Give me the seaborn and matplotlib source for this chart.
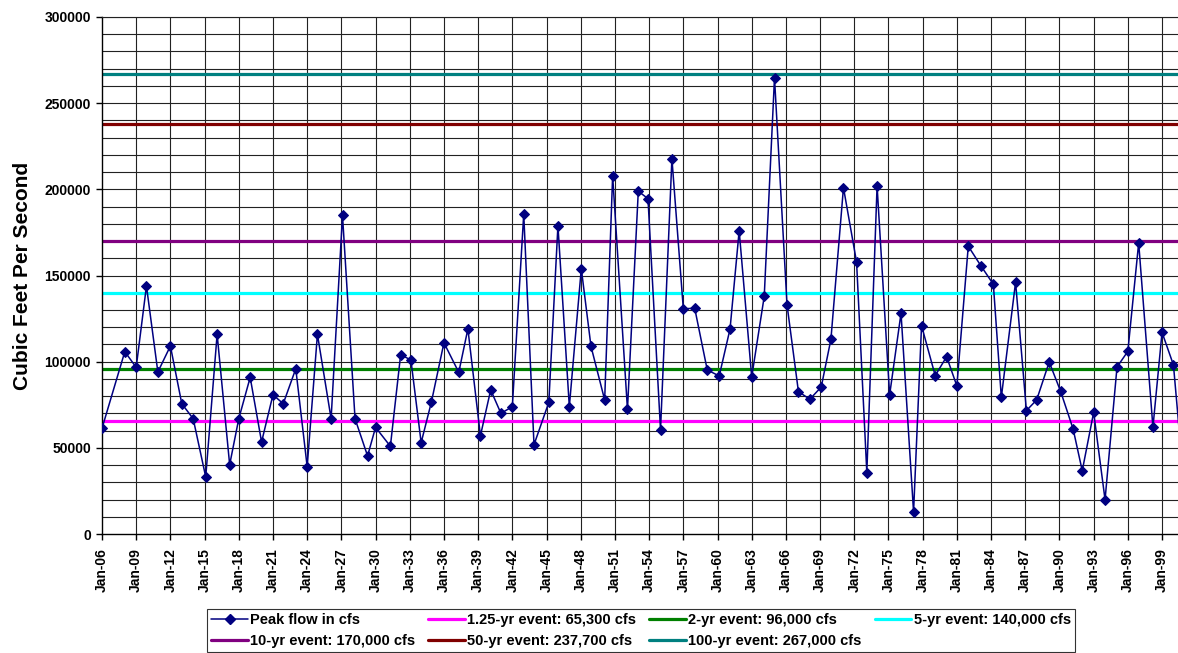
import matplotlib
matplotlib.use("Agg")
import matplotlib.pyplot as plt
import seaborn as sns
import pandas as pd
from matplotlib.lines import Line2D

# peak dates as fractional years
peak_years = [
    1906.0, 1908.0, 1909.0, 1909.9, 1910.9, 1912.0, 1913.0, 1914.0, 1915.1, 1916.1,
    1917.2, 1918.0, 1919.0, 1920.0, 1921.0, 1921.9, 1923.0, 1924.0, 1924.9, 1926.1,
    1927.1, 1928.2, 1929.3, 1930.0, 1931.3, 1932.2, 1933.1, 1934.0, 1934.9, 1936.0,
    1937.3, 1938.1, 1939.2, 1940.1, 1941.0, 1942.0, 1943.0, 1943.9, 1945.2, 1946.0,
    1947.0, 1948.05, 1948.9, 1950.1, 1950.8, 1952.1, 1953.05, 1953.9, 1955.0, 1956.0,
    1957.0, 1958.0, 1959.1, 1960.15, 1961.1, 1961.9, 1963.0, 1964.1, 1965.0, 1966.1,
    1967.1, 1968.1, 1969.1, 1969.95, 1971.05, 1972.2, 1973.1, 1974.0, 1975.1, 1976.1,
    1977.2, 1977.9, 1979.1, 1980.1, 1981.0, 1982.0, 1983.1, 1984.2, 1984.9, 1986.15,
    1987.1, 1988.0, 1989.1, 1990.1, 1991.2, 1992.0, 1993.0, 1994.0, 1995.05, 1996.0,
    1996.95, 1998.2, 1999.0, 2000.0, 2001.0,
]
peak_flow = [
    61300, 105800, 96700, 143900, 94000, 109100, 75600, 66900, 33100, 115900,
    40200, 66900, 90900, 53400, 80800, 75600, 95900, 39100, 115900, 66900,
    184900, 66900, 45300, 61900, 50900, 104000, 101000, 53000, 76600, 111000,
    93800, 119000, 57000, 83600, 70000, 73900, 185700, 51800, 76400, 178900,
    73900, 154000, 108900, 77800, 207900, 72300, 198900, 194600, 60400, 217800,
    130700, 131000, 95200, 91700, 119000, 176000, 91100, 137900, 264800, 132900,
    82600, 78200, 85300, 113000, 201000, 157800, 35600, 202000, 80700, 128100,
    12800, 120900, 91900, 102900, 85900, 167000, 155700, 144900, 79300, 146100,
    71600, 77800, 99800, 82800, 60900, 36700, 70600, 19900, 96900, 106000,
    168900, 61900, 117000, 98100, 23000,
]

event_labels = ["1.25-yr event: 65,300 cfs", "2-yr event: 96,000 cfs", "5-yr event: 140,000 cfs",
                "10-yr event: 170,000 cfs", "50-yr event: 237,700 cfs", "100-yr event: 267,000 cfs"]
event_values = [65300, 96000, 140000, 170000, 237700, 267000]
event_colors = ["#FF00FF", "#008000", "#00FFFF", "#800080", "#800000", "#008080"]

tick_years = list(range(1906, 2000, 3))
tick_labels = [f"Jan-{y % 100:02d}" for y in tick_years]

df = pd.DataFrame({"year": peak_years, "flow": peak_flow})

sns.set_theme(style="white")
plt.rcParams["font.family"] = ["Liberation Sans", "DejaVu Sans"]
for key in ["text.color", "axes.labelcolor", "xtick.color", "ytick.color"]:
    plt.rcParams[key] = "black"

fig = plt.figure(figsize=(11.78, 6.53), dpi=100)
ax = fig.add_axes([102 / 1178, 1 - 534 / 653, 1 - 102 / 1178, (534 - 17) / 653])

# horizontal grid every 10000, vertical grid at each tick
for v in range(10000, 300001, 10000):
    ax.axhline(v, color="#222222", lw=0.8, zorder=0)
for y in tick_years[1:]:
    ax.axvline(y, color="#222222", lw=0.8, zorder=0)

handles = []
for lab, val, col in zip(event_labels, event_values, event_colors):
    ax.axhline(val, color=col, lw=2.3, zorder=1)
    handles.append(Line2D([], [], color=col, lw=2.3, label=lab))

sns.lineplot(data=df, x="year", y="flow", ax=ax, color="#000080", lw=1.1,
             marker="D", markersize=5.5, markeredgecolor="#000080", zorder=3, sort=False)
peak_handle = Line2D([], [], color="#000080", lw=1.1, marker="D", markersize=5.5,
                     label="Peak flow in cfs")

ax.set_xlim(1906, 2000.4)
ax.set_ylim(0, 300000)
ax.set_xticks(tick_years)
ax.set_xticklabels(tick_labels, rotation=90, fontsize=10, fontweight="bold")
yt = list(range(0, 300001, 50000))
ax.set_yticks(yt)
ax.set_yticklabels([str(v) for v in yt], fontsize=10, fontweight="bold")
ax.tick_params(axis="both", direction="out", length=4, width=1, color="black",
               left=True, bottom=True, pad=4)
ax.tick_params(axis="x", pad=6)
ax.set_xlabel("")
ax.set_ylabel("Cubic Feet Per Second", fontsize=15, fontweight="bold", labelpad=9)

for side in ["left", "bottom"]:
    ax.spines[side].set_color("black")
    ax.spines[side].set_linewidth(1)
ax.spines["right"].set_visible(False)
ax.spines["top"].set_color("#222222")
ax.spines["top"].set_linewidth(0.8)

# row-major order for a 4-column legend
all_h = [peak_handle] + handles
order = [0, 4, 1, 5, 2, 6, 3]
leg = fig.legend([all_h[i] for i in order], [all_h[i].get_label() for i in order],
                 ncol=4, loc="upper left",
                 bbox_to_anchor=(207 / 1178, 0, (1075 - 207) / 1178, 1 - 609 / 653),
                 mode="expand", frameon=True, fancybox=False, edgecolor="black",
                 prop={"size": 10.5, "weight": "bold"}, handlelength=2.5, handletextpad=0.15,
                 borderaxespad=0, borderpad=0.3, labelspacing=0.45)
leg.get_frame().set_linewidth(0.8)

plt.savefig("out.png", dpi=100)
